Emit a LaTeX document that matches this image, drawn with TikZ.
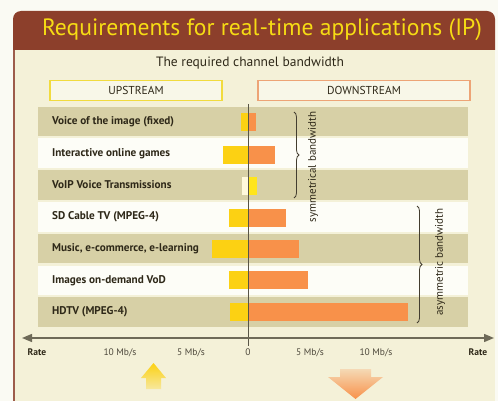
\documentclass[tikz,border=0pt]{standalone}
\usepackage{fontspec}
\setmainfont{PT Sans}
\usetikzlibrary{decorations.pathreplacing,arrows.meta,shapes.geometric}

\definecolor{titlebrown}{HTML}{8C3F2B}
\definecolor{titleyellow}{HTML}{F6DC14}
\definecolor{paper}{HTML}{FAFAF3}
\definecolor{cream}{HTML}{F4F1D8}
\definecolor{olive}{HTML}{D7D0A6}
\definecolor{rowwhite}{HTML}{FDFDF7}
\definecolor{upyellow}{HTML}{FCD113}
\definecolor{downorange}{HTML}{F8914A}
\definecolor{paleyellow}{HTML}{FFF9DC}
\definecolor{brightyellow}{HTML}{FFE51C}
\definecolor{axisgray}{HTML}{6E6A58}
\definecolor{inkbrown}{HTML}{2E2818}
\definecolor{boxyellow}{HTML}{F1DB3E}
\definecolor{boxorange}{HTML}{EDA476}

\tikzset{
  rowbox/.style={rectangle, inner sep=0pt, minimum width=430pt, minimum height=29.5pt},
  upbar/.style={rectangle, inner sep=0pt, minimum height=18pt, anchor=east, fill=upyellow},
  downbar/.style={rectangle, inner sep=0pt, minimum height=18pt, anchor=west, fill=downorange},
  rowlabel/.style={anchor=west, inner sep=0pt, font=\bfseries\fontsize{11.2}{12}\selectfont, text=inkbrown},
  headbox/.style={rectangle, inner sep=0pt, minimum height=20pt, fill=cream!60!white, line width=1.2pt,
    font=\fontsize{11.5}{13}\selectfont, text=inkbrown},
  ticklabel/.style={inner sep=0pt, font=\fontsize{9.5}{10}\selectfont, text=inkbrown!85},
  ratelabel/.style={inner sep=0pt, font=\bfseries\fontsize{9.5}{10}\selectfont, text=inkbrown},
  axisline/.style={draw=axisgray, line width=1.4pt},
  bracepath/.style={draw=inkbrown!90, line width=0.8pt, decorate, decoration={brace, amplitude=5pt}},
  bracetext/.style={inner sep=0pt, rotate=90, font=\fontsize{11}{12}\selectfont, text=inkbrown},
}

\begin{document}
\begin{tikzpicture}[x=1pt, y=-1pt]
  \useasboundingbox (0,0) rectangle (498,401);
  % page and panel background
  \fill[paper] (0,0) rectangle (498,401);
  \fill[cream] (13,30) rectangle (495,401);
  \draw[titlebrown!85, line width=2pt] (14,40) -- (14,401);
  % title bar with rounded top corners
  \fill[titlebrown] (13,50) [rounded corners=8pt] -- (13,11) -- (495,11) [sharp corners] -- (495,50) -- cycle;
  \node[inner sep=0pt, text=titleyellow, font=\fontsize{23.6}{26}\selectfont] (title) at (262,30)
    {Requirements for real-time applications (IP)};

  \node[inner sep=0pt, text=inkbrown, font=\fontsize{13.5}{15}\selectfont] (sub) at (250,63)
    {The required channel bandwidth};

  % column headers
  \node[headbox, draw=boxyellow, minimum width=172pt] (up) at (136,90.5) {UPSTREAM};
  \node[headbox, draw=boxorange, minimum width=212pt] (down) at (364,90.5) {DOWNSTREAM};

  % row stripes
  \node[rowbox, fill=olive]    (r1) at (253,121.5)  {};
  \node[rowbox, fill=rowwhite] (r2) at (253,153.25) {};
  \node[rowbox, fill=olive]    (r3) at (253,185)    {};
  \node[rowbox, fill=rowwhite] (r4) at (253,216.75) {};
  \node[rowbox, fill=olive]    (r5) at (253,248.5)  {};
  \node[rowbox, fill=rowwhite] (r6) at (253,280.25) {};
  \node[rowbox, fill=olive]    (r7) at (253,312)    {};

  % row labels
  \node[rowlabel] (l1) at (52,121.5)  {Voice of the image (fixed)};
  \node[rowlabel] (l2) at (52,153.25) {Interactive online games};
  \node[rowlabel] (l3) at (52,185)    {VoIP Voice Transmissions};
  \node[rowlabel] (l4) at (52,216.75) {SD Cable TV (MPEG-4)};
  \node[rowlabel] (l5) at (52,248.5)  {Music, e-commerce, e-learning};
  \node[rowlabel] (l6) at (52,280.25) {Images on-demand VoD};
  \node[rowlabel] (l7) at (52,312)    {HDTV (MPEG-4)};

  % upstream bars (to the left of zero)
  \node[upbar, minimum width=8pt]  (u1) at (249,122.5)  {};
  \node[upbar, minimum width=26pt] (u2) at (249,154.75) {};
  \node[upbar, minimum width=7pt, fill=paleyellow] (u3) at (249,186) {};
  \node[upbar, minimum width=20pt] (u4) at (249,217.75) {};
  \node[upbar, minimum width=37pt] (u5) at (249,248.5)  {};
  \node[upbar, minimum width=20pt] (u6) at (249,280)    {};
  \node[upbar, minimum width=19pt] (u7) at (249,311.5)  {};

  % downstream bars (to the right of zero)
  \node[downbar, minimum width=7pt]   (d1) at (249,122.5)  {};
  \node[downbar, minimum width=26pt]  (d2) at (249,154.75) {};
  \node[downbar, minimum width=8pt, fill=brightyellow] (d3) at (249,186) {};
  \node[downbar, minimum width=37pt]  (d4) at (249,217.75) {};
  \node[downbar, minimum width=50pt]  (d5) at (249,248.5)  {};
  \node[downbar, minimum width=59pt]  (d6) at (249,280)    {};
  \node[downbar, minimum width=159pt] (d7) at (249,311.5)  {};

  % axes
  \coordinate (vtop) at (248.5,104);
  \coordinate (vbot) at (248.5,346);
  \draw[draw=axisgray!80!black, line width=1.1pt] (vtop) -- (vbot);
  \coordinate (axL) at (22,338);
  \coordinate (axR) at (494,338);
  \draw[axisline, {Triangle[length=10pt,width=8pt]}-{Triangle[length=10pt,width=8pt]}] (axL) -- (axR);

  % axis labels
  \node[ratelabel] (rateL) at (37,352.5) {Rate};
  \node[ticklabel] (t10L) at (120,352.5) {10 Mb/s};
  \node[ticklabel] (t5L)  at (191,352.5) {5 Mb/s};
  \node[ticklabel] (t0)   at (248,352.5) {0};
  \node[ticklabel] (t5R)  at (310,352.5) {5 Mb/s};
  \node[ticklabel] (t10R) at (376,352.5) {10 Mb/s};
  \node[ratelabel] (rateR) at (478,352.5) {Rate};

  % braces
  \coordinate (sTop) at (294,112);
  \coordinate (sBot) at (294,198);
  \draw[bracepath] (sTop) -- (sBot);
  \node[bracetext] (symText) at (313,167) {symmetrical bandwidth};
  \coordinate (aTop) at (417,206);
  \coordinate (aBot) at (417,323);
  \draw[bracepath] (aTop) -- (aBot);
  \node[bracetext] (asymText) at (440,262) {asymmetric bandwidth};

  % direction arrows below the axis
  \shade[top color=upyellow, bottom color=upyellow!30!cream]
    (141,378) -- (153.5,363) -- (166,378) -- (161,378) -- (161,389) -- (146,389) -- (146,378) -- cycle;
  \shade[top color=downorange!25!cream, bottom color=downorange]
    (340,369) -- (371,369) -- (371,377) -- (383,377) -- (355.5,399) -- (328,377) -- (340,377) -- cycle;
\end{tikzpicture}
\end{document}
